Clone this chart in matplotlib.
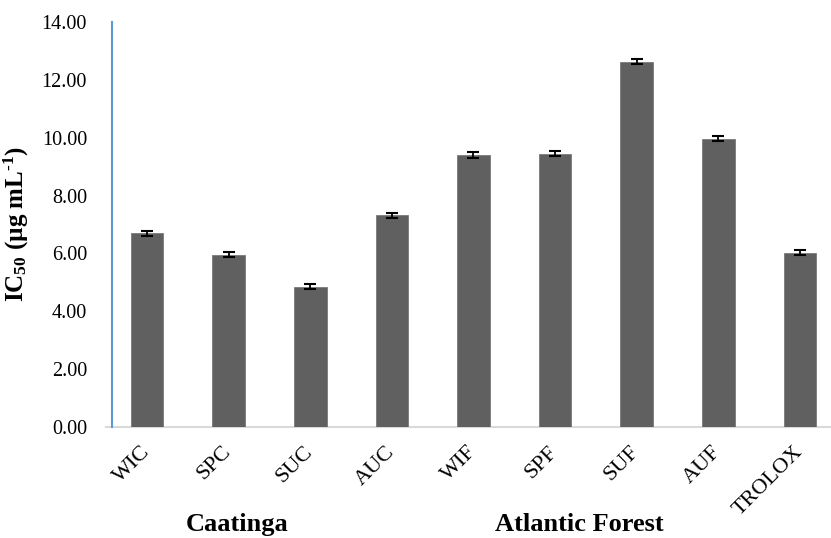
import matplotlib
matplotlib.use("Agg")
import matplotlib.pyplot as plt
import matplotlib.transforms as mtransforms

# data
samples = ["WIC", "SPC", "SUC", "AUC", "WIF", "SPF", "SUF", "AUF", "TROLOX"]
ic50 = [6.70, 5.95, 4.85, 7.32, 9.40, 9.45, 12.63, 9.97, 6.02]
ic50_err = [0.09, 0.09, 0.09, 0.09, 0.09, 0.09, 0.08, 0.09, 0.09]
y_ticks = [0, 2, 4, 6, 8, 10, 12, 14]
groups = ["Caatinga", "Atlantic Forest"]
group_pos = [1.1, 5.3]

plt.rcParams['font.family'] = ['Liberation Serif', 'DejaVu Serif']
plt.rcParams['mathtext.default'] = 'regular'

fig = plt.figure(figsize=(8.31, 5.38), dpi=100)
ax = fig.add_axes([0.1348, 0.2063, 0.865, 0.7528])

x = list(range(len(samples)))
ax.bar(x, ic50, width=0.4, color='#606060', edgecolor='#7a7a7a', linewidth=0.6,
       yerr=ic50_err, error_kw=dict(ecolor='black', elinewidth=1.3, capsize=4.5, capthick=1.5),
       zorder=2)

ax.set_xlim(-0.429, 8.38)
ax.set_ylim(0, 14)
ax.set_yticks(y_ticks)
ax.set_yticklabels([f"{v:.2f}" for v in y_ticks], fontsize=14.5)
ax.set_xticks(x)
ax.set_xticklabels(samples, fontsize=16, rotation=45, ha='right', va='center',
                   rotation_mode='anchor')
ax.tick_params(axis='y', length=0, pad=18)
ax.tick_params(axis='x', length=0, pad=16)

for s in ['top', 'right', 'bottom']:
    ax.spines[s].set_visible(False)
ax.spines['left'].set_color('#5B9BD5')
ax.spines['left'].set_linewidth(1.5)
ax.spines['left'].set_zorder(3)
# gray baseline, a little past the vertical axis as in the original
ax.plot([-0.5, 8.38], [0, 0], color='#d9d9d9', linewidth=1.5, clip_on=False, zorder=1)

ax.set_ylabel(u"IC$_{50}$ (µg mL$^{\u20101}$)", fontsize=18, fontweight='bold', labelpad=8)

trans = mtransforms.blended_transform_factory(ax.transData, fig.transFigure)
for name, pos in zip(groups, group_pos):
    ax.text(pos, 0.025, name, transform=trans, ha='center', va='center',
            fontsize=19, fontweight='bold')

fig.savefig("out.png", dpi=100)
